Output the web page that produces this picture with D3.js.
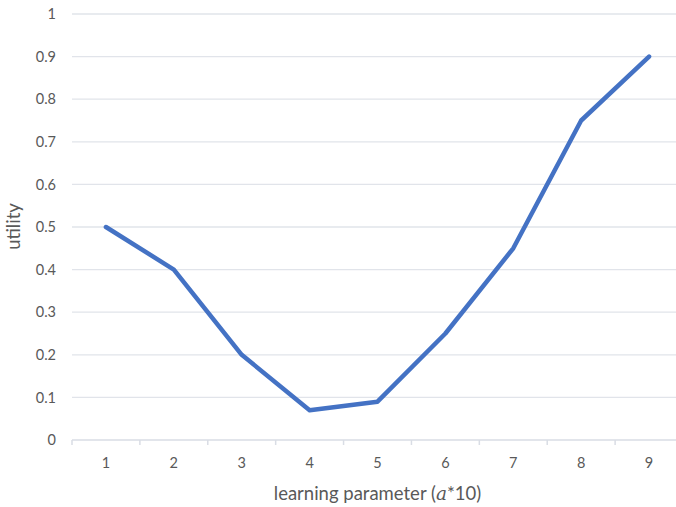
<!DOCTYPE html>
<html><head><meta charset="utf-8">
<script src="https://cdn.jsdelivr.net/npm/d3@7"></script>
<style>body{margin:0;background:#fff}svg{display:block}</style>
</head><body>
<svg id="c" width="676" height="507"></svg>
<script>
const categories = ["1","2","3","4","5","6","7","8","9"];
const utility = [0.5, 0.4, 0.2, 0.07, 0.09, 0.25, 0.45, 0.75, 0.9];
const yTicks = [0,0.1,0.2,0.3,0.4,0.5,0.6,0.7,0.8,0.9,1];
const yTickLabels = ["0","0.1","0.2","0.3","0.4","0.5","0.6","0.7","0.8","0.9","1"];

const svg = d3.select("#c");
const pLeft = 72, pRight = 683, pTop = 14, pBottom = 440;
const font = "Lato, 'Open Sans', sans-serif";
const x = d3.scaleBand().domain(categories).range([pLeft, pRight]).paddingInner(0).paddingOuter(0);
const y = d3.scaleLinear().domain([0,1]).range([pBottom, pTop]);

// gridlines
svg.append("g").selectAll("line").data(yTicks.slice(1)).join("line")
  .attr("x1", pLeft).attr("x2", pRight)
  .attr("y1", d => y(d)).attr("y2", d => y(d))
  .attr("stroke", "#e1e4ea").attr("stroke-width", 1.3);

// y axis labels
const yAxis = d3.axisLeft(y).tickValues(yTicks).tickFormat((d,i)=>yTickLabels[i]).tickSize(0).tickPadding(16);
const gy = svg.append("g").attr("transform", `translate(${pLeft},0)`).call(yAxis);
gy.select(".domain").remove();
gy.selectAll("text").attr("fill", "#595959").style("font-family", font).style("font-size", "14.5px");

// x axis
const gx = svg.append("g").attr("transform", `translate(0,${pBottom})`);
gx.append("line").attr("x1", pLeft).attr("x2", pRight).attr("y1", 0).attr("y2", 0)
  .attr("stroke", "#d9dde5").attr("stroke-width", 1.5);
const boundaries = categories.map(c => x(c)).concat([pRight]);
gx.selectAll("line.tk").data(boundaries).join("line").attr("class","tk")
  .attr("x1", d=>d).attr("x2", d=>d).attr("y1", 0).attr("y2", 5)
  .attr("stroke", "#d9dde5").attr("stroke-width", 1.5);
gx.selectAll("text").data(categories).join("text")
  .attr("x", d => x(d) + x.bandwidth()/2).attr("y", 27.5)
  .attr("text-anchor", "middle").attr("fill", "#595959")
  .style("font-family", font).style("font-size", "14.5px").text(d => d);

// line
const line = d3.line().x((d,i) => x(categories[i]) + x.bandwidth()/2).y(d => y(d));
svg.append("path").datum(utility).attr("d", line)
  .attr("fill", "none").attr("stroke", "#4472c4").attr("stroke-width", 4.5)
  .attr("stroke-linejoin", "round").attr("stroke-linecap", "round");

// axis titles
const xt = svg.append("text").attr("x", (pLeft+pRight)/2).attr("y", 499.5)
  .attr("text-anchor", "middle").attr("fill", "#595959")
  .style("font-family", font).style("font-size", "18.5px");
xt.append("tspan").text("learning parameter (");
xt.append("tspan").style("font-family", "'DejaVu Serif', serif").style("font-style", "italic").text("a");
xt.append("tspan").text("*10)");

svg.append("text").attr("transform", `translate(20,226.5) rotate(-90)`)
  .attr("text-anchor", "middle").attr("fill", "#595959")
  .style("font-family", font).style("font-size", "18.5px").text("utility");
</script>
</body></html>
